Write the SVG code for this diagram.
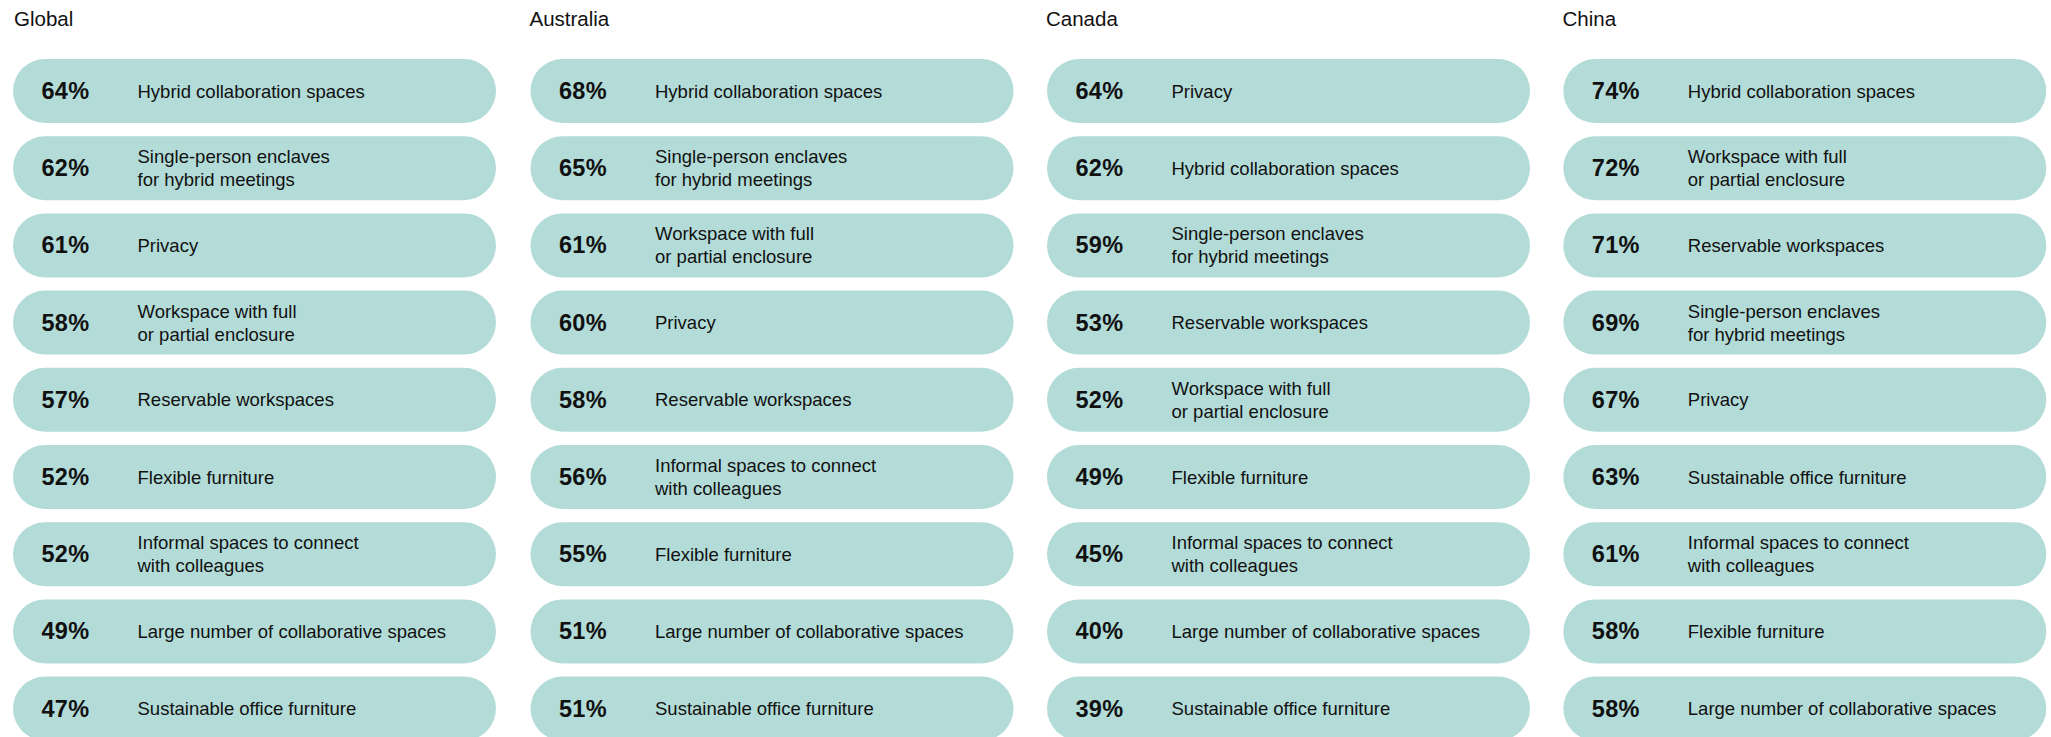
<svg xmlns="http://www.w3.org/2000/svg" width="2051" height="737" viewBox="0 0 2051 737">
<style>
.bg{fill:#ffffff}
.pill{fill:#b3dcd8}
.title{font-family:"Liberation Sans",Arial,sans-serif;font-size:20.5px;fill:#111111}
.pct{font-family:"Liberation Sans",Arial,sans-serif;font-size:23.5px;font-weight:bold;fill:#111111;letter-spacing:0.3px}
.lbl{font-family:"Liberation Sans",Arial,sans-serif;font-size:18.5px;fill:#111111}
</style>
<defs>
<rect id="p" class="pill" x="0" y="0" width="483" height="64" rx="32" ry="32"/>
</defs>
<rect class="bg" x="0" y="0" width="2051" height="737"/>

<g id="col-global">
<text class="title" x="14" y="26">Global</text>
<g id="global-1" transform="translate(13,59)"><use href="#p"/><text class="pct" x="28.5" y="40">64%</text><text class="lbl" x="124.5" y="38.5">Hybrid collaboration spaces</text></g>
<g id="global-2" transform="translate(13,136.2)"><use href="#p"/><text class="pct" x="28.5" y="40">62%</text><text class="lbl" x="124.5" y="27">Single-person enclaves</text><text class="lbl" x="124.5" y="50">for hybrid meetings</text></g>
<g id="global-3" transform="translate(13,213.4)"><use href="#p"/><text class="pct" x="28.5" y="40">61%</text><text class="lbl" x="124.5" y="38.5">Privacy</text></g>
<g id="global-4" transform="translate(13,290.6)"><use href="#p"/><text class="pct" x="28.5" y="40">58%</text><text class="lbl" x="124.5" y="27">Workspace with full</text><text class="lbl" x="124.5" y="50">or partial enclosure</text></g>
<g id="global-5" transform="translate(13,367.8)"><use href="#p"/><text class="pct" x="28.5" y="40">57%</text><text class="lbl" x="124.5" y="38.5">Reservable workspaces</text></g>
<g id="global-6" transform="translate(13,445)"><use href="#p"/><text class="pct" x="28.5" y="40">52%</text><text class="lbl" x="124.5" y="38.5">Flexible furniture</text></g>
<g id="global-7" transform="translate(13,522.2)"><use href="#p"/><text class="pct" x="28.5" y="40">52%</text><text class="lbl" x="124.5" y="27">Informal spaces to connect</text><text class="lbl" x="124.5" y="50">with colleagues</text></g>
<g id="global-8" transform="translate(13,599.4)"><use href="#p"/><text class="pct" x="28.5" y="40">49%</text><text class="lbl" x="124.5" y="38.5">Large number of collaborative spaces</text></g>
<g id="global-9" transform="translate(13,676.6)"><use href="#p"/><text class="pct" x="28.5" y="40">47%</text><text class="lbl" x="124.5" y="38.5">Sustainable office furniture</text></g>
</g>

<g id="col-australia">
<text class="title" x="529.5" y="26">Australia</text>
<g id="australia-1" transform="translate(530.5,59)"><use href="#p"/><text class="pct" x="28.5" y="40">68%</text><text class="lbl" x="124.5" y="38.5">Hybrid collaboration spaces</text></g>
<g id="australia-2" transform="translate(530.5,136.2)"><use href="#p"/><text class="pct" x="28.5" y="40">65%</text><text class="lbl" x="124.5" y="27">Single-person enclaves</text><text class="lbl" x="124.5" y="50">for hybrid meetings</text></g>
<g id="australia-3" transform="translate(530.5,213.4)"><use href="#p"/><text class="pct" x="28.5" y="40">61%</text><text class="lbl" x="124.5" y="27">Workspace with full</text><text class="lbl" x="124.5" y="50">or partial enclosure</text></g>
<g id="australia-4" transform="translate(530.5,290.6)"><use href="#p"/><text class="pct" x="28.5" y="40">60%</text><text class="lbl" x="124.5" y="38.5">Privacy</text></g>
<g id="australia-5" transform="translate(530.5,367.8)"><use href="#p"/><text class="pct" x="28.5" y="40">58%</text><text class="lbl" x="124.5" y="38.5">Reservable workspaces</text></g>
<g id="australia-6" transform="translate(530.5,445)"><use href="#p"/><text class="pct" x="28.5" y="40">56%</text><text class="lbl" x="124.5" y="27">Informal spaces to connect</text><text class="lbl" x="124.5" y="50">with colleagues</text></g>
<g id="australia-7" transform="translate(530.5,522.2)"><use href="#p"/><text class="pct" x="28.5" y="40">55%</text><text class="lbl" x="124.5" y="38.5">Flexible furniture</text></g>
<g id="australia-8" transform="translate(530.5,599.4)"><use href="#p"/><text class="pct" x="28.5" y="40">51%</text><text class="lbl" x="124.5" y="38.5">Large number of collaborative spaces</text></g>
<g id="australia-9" transform="translate(530.5,676.6)"><use href="#p"/><text class="pct" x="28.5" y="40">51%</text><text class="lbl" x="124.5" y="38.5">Sustainable office furniture</text></g>
</g>

<g id="col-canada">
<text class="title" x="1046" y="26">Canada</text>
<g id="canada-1" transform="translate(1047,59)"><use href="#p"/><text class="pct" x="28.5" y="40">64%</text><text class="lbl" x="124.5" y="38.5">Privacy</text></g>
<g id="canada-2" transform="translate(1047,136.2)"><use href="#p"/><text class="pct" x="28.5" y="40">62%</text><text class="lbl" x="124.5" y="38.5">Hybrid collaboration spaces</text></g>
<g id="canada-3" transform="translate(1047,213.4)"><use href="#p"/><text class="pct" x="28.5" y="40">59%</text><text class="lbl" x="124.5" y="27">Single-person enclaves</text><text class="lbl" x="124.5" y="50">for hybrid meetings</text></g>
<g id="canada-4" transform="translate(1047,290.6)"><use href="#p"/><text class="pct" x="28.5" y="40">53%</text><text class="lbl" x="124.5" y="38.5">Reservable workspaces</text></g>
<g id="canada-5" transform="translate(1047,367.8)"><use href="#p"/><text class="pct" x="28.5" y="40">52%</text><text class="lbl" x="124.5" y="27">Workspace with full</text><text class="lbl" x="124.5" y="50">or partial enclosure</text></g>
<g id="canada-6" transform="translate(1047,445)"><use href="#p"/><text class="pct" x="28.5" y="40">49%</text><text class="lbl" x="124.5" y="38.5">Flexible furniture</text></g>
<g id="canada-7" transform="translate(1047,522.2)"><use href="#p"/><text class="pct" x="28.5" y="40">45%</text><text class="lbl" x="124.5" y="27">Informal spaces to connect</text><text class="lbl" x="124.5" y="50">with colleagues</text></g>
<g id="canada-8" transform="translate(1047,599.4)"><use href="#p"/><text class="pct" x="28.5" y="40">40%</text><text class="lbl" x="124.5" y="38.5">Large number of collaborative spaces</text></g>
<g id="canada-9" transform="translate(1047,676.6)"><use href="#p"/><text class="pct" x="28.5" y="40">39%</text><text class="lbl" x="124.5" y="38.5">Sustainable office furniture</text></g>
</g>

<g id="col-china">
<text class="title" x="1562.5" y="26">China</text>
<g id="china-1" transform="translate(1563.3,59)"><use href="#p"/><text class="pct" x="28.5" y="40">74%</text><text class="lbl" x="124.5" y="38.5">Hybrid collaboration spaces</text></g>
<g id="china-2" transform="translate(1563.3,136.2)"><use href="#p"/><text class="pct" x="28.5" y="40">72%</text><text class="lbl" x="124.5" y="27">Workspace with full</text><text class="lbl" x="124.5" y="50">or partial enclosure</text></g>
<g id="china-3" transform="translate(1563.3,213.4)"><use href="#p"/><text class="pct" x="28.5" y="40">71%</text><text class="lbl" x="124.5" y="38.5">Reservable workspaces</text></g>
<g id="china-4" transform="translate(1563.3,290.6)"><use href="#p"/><text class="pct" x="28.5" y="40">69%</text><text class="lbl" x="124.5" y="27">Single-person enclaves</text><text class="lbl" x="124.5" y="50">for hybrid meetings</text></g>
<g id="china-5" transform="translate(1563.3,367.8)"><use href="#p"/><text class="pct" x="28.5" y="40">67%</text><text class="lbl" x="124.5" y="38.5">Privacy</text></g>
<g id="china-6" transform="translate(1563.3,445)"><use href="#p"/><text class="pct" x="28.5" y="40">63%</text><text class="lbl" x="124.5" y="38.5">Sustainable office furniture</text></g>
<g id="china-7" transform="translate(1563.3,522.2)"><use href="#p"/><text class="pct" x="28.5" y="40">61%</text><text class="lbl" x="124.5" y="27">Informal spaces to connect</text><text class="lbl" x="124.5" y="50">with colleagues</text></g>
<g id="china-8" transform="translate(1563.3,599.4)"><use href="#p"/><text class="pct" x="28.5" y="40">58%</text><text class="lbl" x="124.5" y="38.5">Flexible furniture</text></g>
<g id="china-9" transform="translate(1563.3,676.6)"><use href="#p"/><text class="pct" x="28.5" y="40">58%</text><text class="lbl" x="124.5" y="38.5">Large number of collaborative spaces</text></g>
</g>

<g id="connectors"></g>
</svg>
